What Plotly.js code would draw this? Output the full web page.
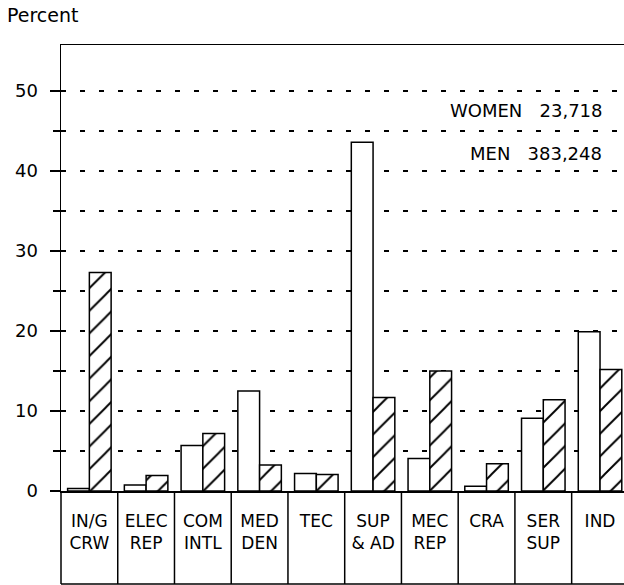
<!DOCTYPE html>
<html>
<head>
<meta charset="utf-8">
<script src="https://cdn.plot.ly/plotly-3.0.1.min.js"></script>
<style>html,body{margin:0;padding:0;background:#fff;}#chart{width:624px;height:585px;}</style>
</head>
<body>
<div id="chart"></div>
<script>
// ---- data ----
const categories = ['IN/G<br>CRW', 'ELEC<br>REP', 'COM<br>INTL', 'MED<br>DEN', 'TEC', 'SUP<br>& AD', 'MEC<br>REP', 'CRA', 'SER<br>SUP', 'IND'];
const women = [0.3, 0.75, 5.7, 12.5, 2.2, 43.6, 4.05, 0.6, 9.1, 19.9];
const men = [27.3, 1.95, 7.2, 3.25, 2.05, 11.7, 15.0, 3.4, 11.4, 15.2];
const seriesNames = ['WOMEN', 'MEN'];
const seriesTotals = ['23,718', '383,248'];
const majorTicks = [0, 10, 20, 30, 40, 50];
const minorTicks = [5, 15, 25, 35, 45];
const yLabel = 'Percent';

// ---- layout constants ----
const FONT = 'DejaVu Sans, Arial, sans-serif';
const W = 624, H = 585;
const M = {l: 61, r: 0, t: 45, b: 94};
const plotH = H - M.t - M.b;          // 446 px
const boxBottom = -(H - 1 - (H - M.b)) / plotH; // box bottom just above figure edge
const catPx = 56.74;                   // px per category
const plotW = W - M.l - M.r;
const xMax = -0.5 + plotW / catPx;

const lineStyle = {color: 'black', width: 1.5};
const gridDash = '5px,14px';

const traces = [
  {
    type: 'bar', name: seriesNames[0], x: categories, y: women,
    marker: {color: 'white', line: lineStyle},
    hoverinfo: 'skip'
  },
  {
    type: 'bar', name: seriesNames[1], x: categories, y: men,
    marker: {
      color: 'white', line: lineStyle,
      pattern: {shape: '/', fgcolor: 'black', bgcolor: 'white', size: 16, solidity: 0.12}
    },
    hoverinfo: 'skip'
  }
];

// category label boxes below the axis, built from the categories
const shapes = [];
for (let i = 1; i < categories.length; i++) {
  shapes.push({type: 'line', xref: 'x', yref: 'paper', x0: i - 0.5, x1: i - 0.5, y0: boxBottom, y1: 0, line: lineStyle});
}
shapes.push({type: 'line', xref: 'paper', yref: 'paper', x0: 0, x1: 0, y0: boxBottom, y1: 0, line: lineStyle});
shapes.push({type: 'line', xref: 'paper', yref: 'paper', x0: 0, x1: 1, y0: boxBottom, y1: boxBottom, line: lineStyle});

const annY = [47.6, 42.25];
const annotations = seriesNames.map((n, i) => ({
  xref: 'paper', yref: 'y', x: 0.9645, y: annY[i],
  xanchor: 'right', yanchor: 'middle', showarrow: false,
  text: n + '\u00a0\u00a0 ' + seriesTotals[i],
  font: {family: FONT, size: 18, color: 'black'}
}));

const layout = {
  width: W, height: H, autosize: false,
  margin: M,
  paper_bgcolor: 'white', plot_bgcolor: 'white',
  showlegend: false,
  hovermode: false,
  barmode: 'group', bargap: 0.233, bargroupgap: 0,
  font: {family: FONT, size: 17, color: 'black'},
  title: {
    text: yLabel, x: 7 / W, xanchor: 'left', xref: 'container',
    y: 1 - 15 / H, yanchor: 'middle', yref: 'container',
    font: {family: FONT, size: 19, color: 'black'}
  },
  xaxis: {
    type: 'category', range: [-0.5, xMax],
    showline: true, linecolor: 'black', linewidth: 1.5, mirror: true,
    ticks: '', showgrid: false, zeroline: false,
    ticklabelstandoff: 14,
    tickfont: {family: FONT, size: 17, color: 'black'}
  },
  yaxis: {
    range: [0, 55.75], tickmode: 'array', tickvals: majorTicks,
    showline: true, linecolor: 'black', linewidth: 1.5,
    ticks: 'outside', ticklen: 10, tickwidth: 1.5, tickcolor: 'black',
    ticklabelstandoff: 8,
    tickfont: {family: FONT, size: 18, color: 'black'},
    showgrid: true, gridcolor: 'black', gridwidth: 1.6, griddash: gridDash,
    zeroline: false,
    minor: {
      tickmode: 'array', tickvals: minorTicks,
      ticks: 'outside', ticklen: 7, tickwidth: 1.5, tickcolor: 'black',
      showgrid: true, gridcolor: 'black', gridwidth: 1.6, griddash: gridDash
    }
  },
  shapes: shapes,
  annotations: annotations
};

Plotly.newPlot('chart', traces, layout, {displayModeBar: false, staticPlot: true});
</script>
</body>
</html>
